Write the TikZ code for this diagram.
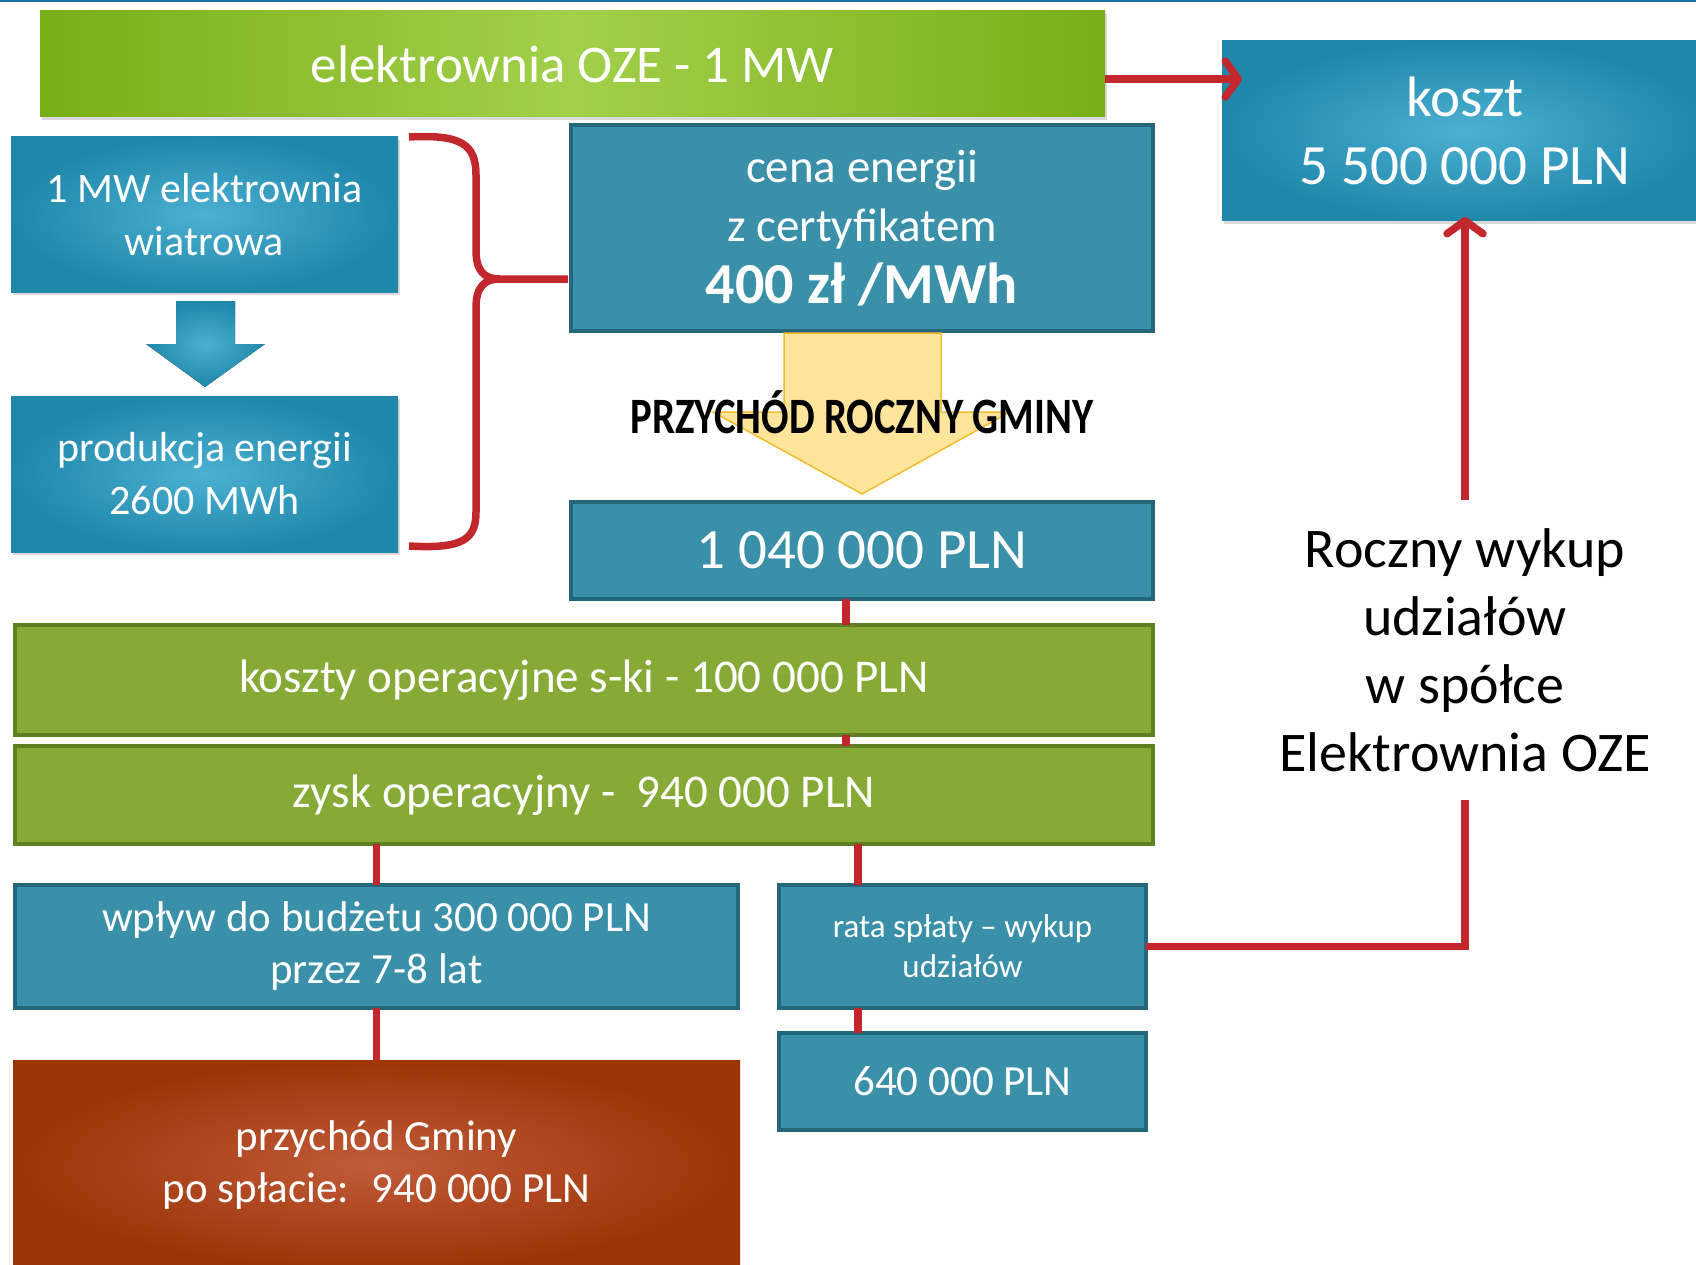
\documentclass[tikz,border=0pt]{standalone}
\usepackage{fontspec}
\setmainfont{Carlito}
\usetikzlibrary{arrows.meta, positioning, shadows}

\definecolor{tealfill}{HTML}{3A90A8}
\definecolor{tealedge}{HTML}{25677A}
\definecolor{bluedark}{HTML}{1E87AA}
\definecolor{bluelight}{HTML}{4CB0D2}
\definecolor{greenfill}{HTML}{86AA35}
\definecolor{greenedge}{HTML}{5E7F22}
\definecolor{ozegreen}{HTML}{78AE18}
\definecolor{ozelight}{HTML}{A2D04A}
\definecolor{orangein}{HTML}{C15B3A}
\definecolor{orangeout}{HTML}{9C3406}
\definecolor{linkred}{HTML}{C1272D}
\definecolor{yellowfill}{HTML}{FFE49B}
\definecolor{yellowedge}{HTML}{F4BB2C}
\definecolor{topline}{HTML}{1B6FA8}

\begin{document}
\begin{tikzpicture}[x=1pt, y=-1pt,
        box/.style={anchor=north west, inner sep=0pt, outer sep=0pt, align=center, text=white, font=\fontsize{47}{57}\selectfont},
        flatbox/.style={box, draw=tealedge, line width=3.5pt, fill=tealfill},
        greenbox/.style={box, draw=greenedge, line width=3.5pt, fill=greenfill},
        shadebox/.style={box, inner color=bluelight, outer color=bluedark, font=\fontsize{42}{53}\selectfont, drop shadow={opacity=0.3, shadow xshift=2pt, shadow yshift=-3pt}},
        orangebox/.style={box, inner color=orangein, outer color=orangeout, font=\fontsize{43}{52}\selectfont},
        link/.style={draw=linkred, line width=7.5pt},
        linkarrow/.style={link, -{Straight Barb[length=13pt, width=36pt, round]}}
    ]
    \useasboundingbox (0,0) rectangle (1696,1265);
    \clip (0,0) rectangle (1696,1265);
    \fill[topline] (0,0) rectangle (1696,2.5);

    \node[box, minimum width=1065pt, minimum height=106pt, left color=ozegreen, right color=ozegreen, middle color=ozelight, font=\fontsize{53}{60}\selectfont, drop shadow={opacity=0.3, shadow xshift=2pt, shadow yshift=-3pt}] (ozebar) at (40,11) {elektrownia OZE - 1 MW};
    \node[shadebox, minimum width=486pt, minimum height=180pt, font=\fontsize{57}{68}\selectfont] (koszt) at (1222,41) {koszt\\5 500 000 PLN};

    \node[shadebox, minimum width=387pt, minimum height=155pt] (wiatr) at (11,137) {1 MW elektrownia\\wiatrowa};
    \node[shadebox, minimum width=387pt, minimum height=156pt, below=104pt of wiatr] (produkcja) {produkcja energii\\2600 MWh};
    \fill[inner color=bluelight, outer color=bluedark] (176,301) -- (235,301) -- (235,344) -- (265,344) -- (205,387) -- (146,344) -- (176,344) -- cycle;

    \node[flatbox, minimum width=582pt, minimum height=206pt, font=\fontsize{47}{59}\selectfont] (cena) at (571,125) {cena energii\\z certyfikatem\\[3pt]{\fontsize{58}{62}\selectfont\bfseries 400 zł /MWh}};
    \filldraw[fill=yellowfill, draw=yellowedge, line width=1.5pt] (784,333) -- (941,333) -- (941,412) -- (1010,412) -- (862,494) -- (713,412) -- (784,412) -- cycle;
    \node[font=\fontsize{51}{60}\selectfont\bfseries] (etykieta) at (862,412) {\scalebox{0.8}[1]{PRZYCHÓD ROCZNY GMINY}};
    \node[flatbox, minimum width=582pt, minimum height=97pt, font=\fontsize{57}{68}\selectfont] (roczny) at (571,502) {1 040 000 PLN};

    \node[greenbox, minimum width=1138pt, minimum height=110pt] (koszty) at (15,625) {koszty operacyjne s-ki - 100 000 PLN};
    \node[greenbox, minimum width=1138pt, minimum height=98pt, below=11pt of koszty] (zysk) {zysk operacyjny -~ 940 000 PLN};

    \node[flatbox, minimum width=723pt, minimum height=123pt, font=\fontsize{43}{52}\selectfont] (wplyw) at (15,885) {wpływ do budżetu 300 000 PLN\\przez 7-8 lat};
    \node[orangebox, minimum width=727pt, minimum height=210pt, below=52pt of wplyw] (gmina) {przychód Gminy\\po spłacie:~ 940 000 PLN};
    \node[flatbox, minimum width=367pt, minimum height=123pt, font=\fontsize{33}{40}\selectfont] (rata) at (779,885) {rata spłaty – wykup\\udziałów};
    \node[flatbox, minimum width=367pt, minimum height=97pt, below=25pt of rata, font=\fontsize{43}{52}\selectfont] (splata) {640 000 PLN};

    \node[align=center, minimum height=300pt, font=\fontsize{56}{68}\selectfont] (wykup) at (1465,650) {Roczny wykup\\udziałów\\w spółce\\Elektrownia OZE};

    % polaczenia
    \coordinate (ozeout) at ([yshift=-15pt]ozebar.east);
    \draw[linkarrow, shorten >=-20pt] (ozeout) -- (ozeout -| koszt.west);
    \draw[linkarrow, shorten >=-4pt] (wykup.north) -- (koszt.south);
    \draw[link] (rata.east) -| (wykup.south);
    \draw[link] (roczny.south) ++(-16,0) coordinate (pion) -- (pion |- koszty.north);
    \draw[link] (pion |- koszty.south) -- (pion |- zysk.north);
    \draw[link] (wplyw.north) -- (wplyw.north |- zysk.south);
    \draw[link] (wplyw.south) -- (gmina.north);
    \draw[link] (rata.north west) ++(79,0) coordinate (pion2) -- (pion2 |- zysk.south);
    \draw[link] (pion2 |- rata.south) -- (pion2 |- splata.north);

    % klamra
    \draw[link] (409,137) .. controls (462,134) and (476,145) .. (476,175) -- (476,250) .. controls (476,271) and (484,279) .. (500,279) -- (568,279);
    \draw[link] (500,279) .. controls (484,279) and (476,287) .. (476,308) -- (476,512) .. controls (476,540) and (462,549) .. (409,546);
\end{tikzpicture}
\end{document}
